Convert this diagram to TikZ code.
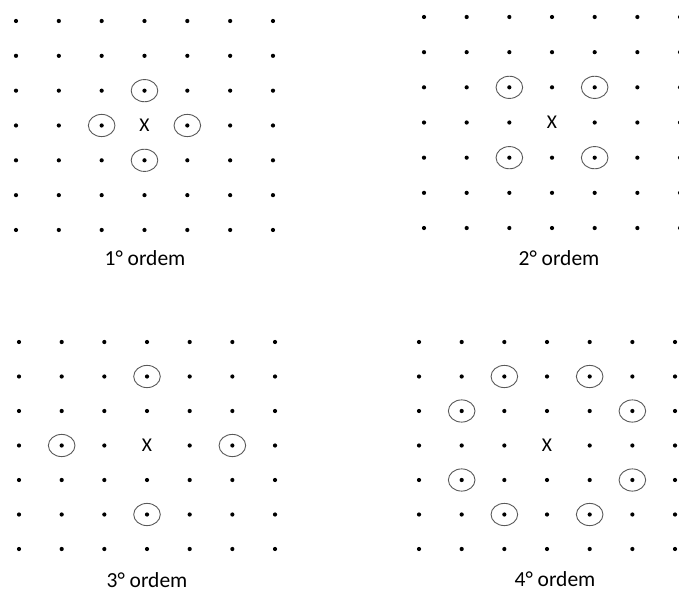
\documentclass[tikz,border=0pt]{standalone}
\usepackage{fontspec}
\setmainfont{Carlito}
\usetikzlibrary{shapes.geometric}
\tikzset{
  dotmark/.style={fill=black},
  ring/.style={draw=black!65, line width=0.9pt},
  xmark/.style={inner sep=0pt, font=\fontsize{19.5}{21}\selectfont},
  lab/.style={inner sep=0pt, font=\fontsize{21.5}{24}\selectfont},
}
% #1 name, #2 x0, #3 y0, #4 dx, #5 dy, #6 circled list
\newcommand\drawpanel[6]{%
  \begin{scope}[shift={(#2pt,-#3pt)}, x=#4pt, y=-#5pt]
    \foreach \i in {0,...,6}{
      \foreach \j in {0,...,6}{
        \ifnum\i=3 \ifnum\j=3 \else \fill[dotmark] (\i,\j) circle[radius=2.1pt]; \fi
        \else \fill[dotmark] (\i,\j) circle[radius=2.1pt]; \fi
      }
    }
    \foreach \i/\j in {#6}{
      \draw[ring] (\i,\j) ellipse[x radius=13.3pt, y radius=11.1pt];
    }
    \node[xmark] (#1x) at (3,3) {X};
  \end{scope}%
}
\begin{document}
\begin{tikzpicture}
\useasboundingbox (0,0) rectangle (679pt,-593pt);
\clip (0,0) rectangle (679pt,-593pt);
\drawpanel{a}{16}{21}{42.83}{34.83}{3/2,2/3,4/3,3/4}
\drawpanel{b}{424}{17}{42.67}{35.17}{2/2,4/2,2/4,4/4}
\drawpanel{c}{19}{342}{42.67}{34.5}{3/1,1/3,5/3,3/5}
\drawpanel{d}{419}{342}{42.67}{34.5}{2/1,4/1,1/2,5/2,1/4,5/4,2/5,4/5}
\node[lab] (la) at (145pt,-258pt) {1° ordem};
\node[lab] (lb) at (559pt,-258.5pt) {2° ordem};
\node[lab] (lc) at (147pt,-580pt) {3° ordem};
\node[lab] (ld) at (555pt,-579pt) {4° ordem};
\end{tikzpicture}
\end{document}
